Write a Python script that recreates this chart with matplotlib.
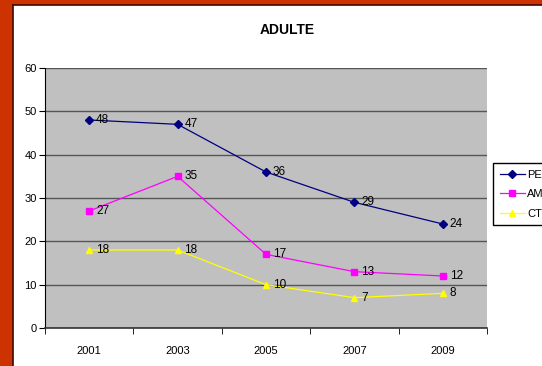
import matplotlib
matplotlib.use("Agg")
import matplotlib.pyplot as plt
from matplotlib.patches import Rectangle
from matplotlib.lines import Line2D

plt.rcParams['font.family'] = ['Liberation Sans', 'DejaVu Sans']

years = ["2001", "2003", "2005", "2007", "2009"]
pe = [48, 47, 36, 29, 24]
am = [27, 35, 17, 13, 12]
ct = [18, 18, 10, 7, 8]
labels = ["PE", "AM", "CT"]

fig = plt.figure(figsize=(5.42, 3.66), dpi=100)
fig.patch.set_facecolor("#CC3300")
# white chart area with dark edge on left/top
fig.patches.append(Rectangle((13 / 542, 0), 1, 1 - 5 / 366, transform=fig.transFigure,
                             facecolor="white", edgecolor="none", zorder=-2))
fig.lines.append(Line2D([12.5 / 542, 12.5 / 542], [0, 1 - 4.5 / 366], transform=fig.transFigure,
                        color="#3a0a00", linewidth=1.2, zorder=-1))
fig.lines.append(Line2D([12.5 / 542, 1], [1 - 4.5 / 366, 1 - 4.5 / 366], transform=fig.transFigure,
                        color="#3a0a00", linewidth=1.2, zorder=-1))

ax = fig.add_axes([45 / 542, 38 / 366, 442 / 542, 260 / 366])
ax.set_zorder(1)
ax.set_facecolor("#C0C0C0")
x = list(range(len(years)))

series = [
    (pe, "#000080", "D", 4),
    (am, "#FF00FF", "s", 4.5),
    (ct, "#FFFF00", "^", 5),
]
handles = []
for (vals, col, mk, ms), lab in zip(series, labels):
    h, = ax.plot(x, vals, color=col, marker=mk, markersize=ms, linewidth=0.9,
                 markeredgecolor=col, label=lab, zorder=3)
    handles.append(h)
    for xi, v in zip(x, vals):
        ax.annotate(str(v), (xi, v), xytext=(5, 0), textcoords="offset points",
                    va="center", ha="left", fontsize=8.5, color="black", zorder=4)

ax.set_xlim(-0.5, 4.5)
ax.set_ylim(0, 60)
ax.set_yticks(range(0, 61, 10))
ax.yaxis.grid(True, color="#555555", linewidth=1)
ax.set_axisbelow(True)
ax.set_xticks(x)
ax.set_xticklabels(years)
ax.set_xticks([i - 0.5 for i in range(6)], minor=True)
ax.tick_params(axis="x", which="major", length=0, pad=13, labelsize=8)
ax.tick_params(axis="x", which="minor", length=4, direction="out", color="black")
ax.tick_params(axis="y", length=4, direction="out", labelsize=8, pad=2)
for s in ["top", "right"]:
    ax.spines[s].set_visible(False)
ax.spines["left"].set_color("black")
ax.spines["bottom"].set_color("#333333")
ax.spines["bottom"].set_linewidth(1.2)

fig.text(287 / 542, 1 - 30 / 366, "ADULTE", ha="center", va="center",
         fontsize=10, fontweight="bold")

leg = fig.legend(handles=handles, labels=labels, loc="upper left",
                 bbox_to_anchor=(493 / 542, 1 - 163 / 366), fontsize=8,
                 frameon=True, fancybox=False, edgecolor="black", framealpha=1,
                 handlelength=2.3, handletextpad=0.2, borderpad=0.6, labelspacing=0.85,
                 borderaxespad=0)
leg.set_zorder(5)

fig.savefig("out.png", dpi=100, facecolor=fig.get_facecolor())
